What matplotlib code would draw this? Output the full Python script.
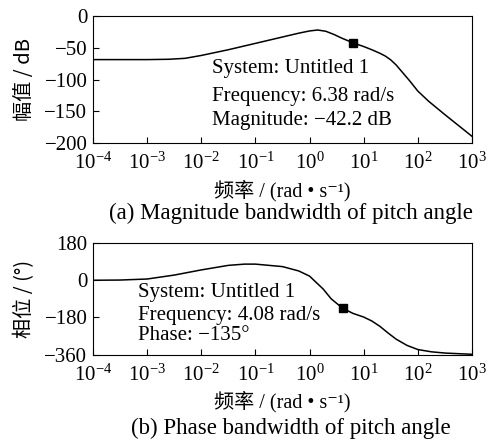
import numpy as np
import matplotlib
matplotlib.use("Agg")
import matplotlib.pyplot as plt

plt.rcParams['font.family'] = ['Liberation Serif', 'Noto Sans CJK SC', 'DejaVu Serif']
plt.rcParams['mathtext.fontset'] = 'custom'
plt.rcParams['mathtext.rm'] = 'Liberation Serif'
plt.rcParams['mathtext.it'] = 'Liberation Serif:italic'
plt.rcParams['font.size'] = 15

# magnitude curve (log10 of frequency, dB)
mag_logw = [-4, -3, -2.6, -2.3, -2, -1.5, -1, -0.5, -0.2, 0, 0.15, 0.3, 0.45, 0.6, 0.805,
            1.0, 1.15, 1.3, 1.4, 1.5, 1.6, 1.7, 1.85, 2.0, 2.2, 2.5, 2.75, 3.0]
mag_db = [-68.5, -68.5, -68, -66.5, -62, -53, -43, -33, -27, -23.5, -22, -24, -29, -35, -42.2,
          -48, -53, -58.6, -63, -69, -77, -87, -102, -118, -134, -155, -172, -189]

# phase curve (log10 of frequency, degrees)
ph_logw = [-4, -3.5, -3, -2.5, -2, -1.5, -1.2, -1, -0.5, -0.2, 0, 0.12, 0.25, 0.4, 0.61,
           0.8, 1.0, 1.15, 1.3, 1.45, 1.6, 1.8, 2.0, 2.25, 2.5, 3.0]
ph_deg = [0, 1, 6, 25, 50, 72, 78, 78, 66, 45, 20, -10, -42, -90, -135,
          -160, -178, -197, -223, -255, -285, -315, -335, -346, -352, -358]

mag_mark = (6.38, -42.2)
ph_mark = (4.08, -135)

mag_text = ["System: Untitled 1", "Frequency: 6.38 rad/s", "Magnitude: \u221242.2 dB"]
ph_text = ["System: Untitled 1", "Frequency: 4.08 rad/s", "Phase: \u2212135\u00b0"]

xlabel = "频率 / (rad \u2022 s\u207b\u00b9)"
ylabel_font = ['Noto Sans CJK SC', 'DejaVu Sans']

fig = plt.figure(figsize=(4.93, 4.43), dpi=100)
ax1 = fig.add_axes([0.1886, 0.6765, 0.7688, 0.2874])
ax2 = fig.add_axes([0.1886, 0.1993, 0.7688, 0.2521])


def style_axis(ax):
    ax.set_xscale('log')
    ax.set_xlim(1e-4, 1e3)
    ax.set_xticks([1e-4, 1e-3, 1e-2, 1e-1, 1e0, 1e1, 1e2, 1e3])
    ax.minorticks_off()
    ax.tick_params(direction='in', length=4.5, width=0.8, top=False, right=False,
                   labelsize=15)
    ax.tick_params(axis='x', pad=7)
    ax.tick_params(axis='y', pad=4)
    for s in ax.spines.values():
        s.set_linewidth(0.8)
    ax.set_xlabel(xlabel, fontsize=14.5, labelpad=4)


ax1.plot(10 ** np.array(mag_logw), mag_db, color='black', lw=1.1)
ax1.plot(*mag_mark, marker='s', color='black', markersize=6)
style_axis(ax1)
ax1.set_ylim(-200, 0)
ax1.set_yticks([0, -50, -100, -150, -200])
ax1.set_ylabel("幅值 / dB", fontsize=14.5, family=ylabel_font, labelpad=7)
for t, y in zip(mag_text, [0.59, 0.37, 0.18]):
    ax1.text(0.314, y, t, transform=ax1.transAxes, fontsize=15, va='center')

ax2.plot(10 ** np.array(ph_logw), ph_deg, color='black', lw=1.1)
ax2.plot(*ph_mark, marker='s', color='black', markersize=6)
style_axis(ax2)
ax2.set_ylim(-360, 180)
ax2.set_yticks([180, 0, -180, -360])
ax2.set_ylabel("相位 / (°)", fontsize=14.5, family=ylabel_font, labelpad=7)
for t, y in zip(ph_text, [0.56, 0.35, 0.17]):
    ax2.text(0.118, y, t, transform=ax2.transAxes, fontsize=15, va='center')

fig.text(291 / 493, 1 - 213 / 443, "(a) Magnitude bandwidth of pitch angle",
         ha='center', va='center', fontsize=16.5)
fig.text(291 / 493, 1 - 428 / 443, "(b) Phase bandwidth of pitch angle",
         ha='center', va='center', fontsize=16.5)

fig.savefig("out.png", dpi=100)
